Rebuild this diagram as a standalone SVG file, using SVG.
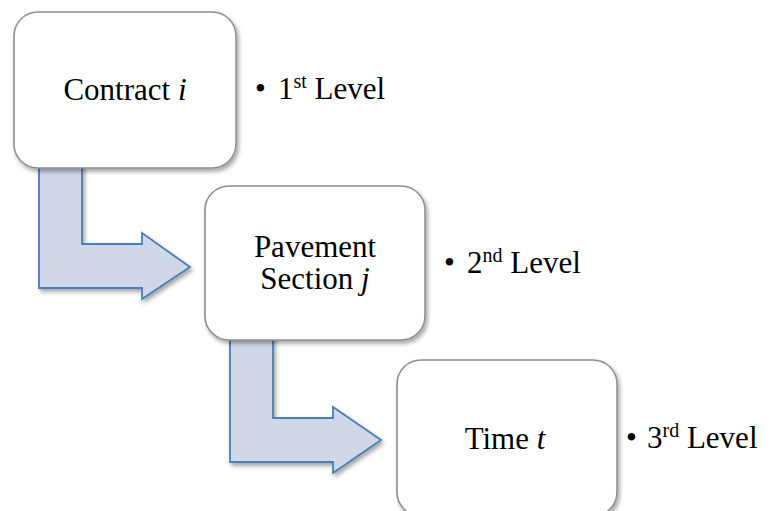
<svg xmlns="http://www.w3.org/2000/svg" width="773" height="511" viewBox="0 0 773 511">
  <defs>
    <filter id="shadow" x="-10%" y="-10%" width="125%" height="130%">
      <feDropShadow dx="2" dy="3" stdDeviation="2" flood-color="#000" flood-opacity="0.35"/>
    </filter>
  </defs>
  <style>
    .box { fill: #ffffff; stroke: #8f8f8f; stroke-width: 1.6; filter: url(#shadow); }
    .arrow { fill: #d0d8e8; stroke: #4a7ebb; stroke-width: 1.8; stroke-linejoin: miter; filter: url(#shadow); }
    text { font-family: 'Liberation Serif', 'Times New Roman', serif; font-size: 31px; fill: #000; }
    .sup { font-size: 20px; }
  </style>

  <!-- bent arrows linking the levels -->
  <g id="connectors">
    <polygon class="arrow" points="39,160 82,160 82,244 142,244 142,233 190,267 142,299 142,288 39,288"/>
    <polygon class="arrow" points="230,332 273,332 273,418 333,418 333,407 381,440 333,473 333,462 230,462"/>
  </g>

  <g id="contract">
    <rect class="box" x="14" y="12" width="222" height="156" rx="24" ry="24"/>
    <text x="125" y="100" text-anchor="middle">Contract <tspan font-style="italic">i</tspan></text>
  </g>

  <g id="pavement-section">
    <rect class="box" x="205" y="186" width="220" height="154" rx="24" ry="24"/>
    <text x="315" y="257" text-anchor="middle">Pavement</text>
    <text x="315" y="289" text-anchor="middle">Section <tspan font-style="italic">j</tspan></text>
  </g>

  <g id="time">
    <rect class="box" x="397" y="360" width="220" height="156" rx="24" ry="24"/>
    <text x="505" y="449" text-anchor="middle">Time <tspan font-style="italic">t</tspan></text>
  </g>

  <g id="level-1">
    <text x="255" y="99">•</text>
    <text x="278" y="99">1<tspan class="sup" dy="-11">st</tspan><tspan dy="11"> Level</tspan></text>
  </g>

  <g id="level-2">
    <text x="444" y="273">•</text>
    <text x="467" y="273">2<tspan class="sup" dy="-11">nd</tspan><tspan dy="11"> Level</tspan></text>
  </g>

  <g id="level-3">
    <text x="626" y="448">•</text>
    <text x="647" y="448">3<tspan class="sup" dy="-11">rd</tspan><tspan dy="11"> Level</tspan></text>
  </g>
</svg>
